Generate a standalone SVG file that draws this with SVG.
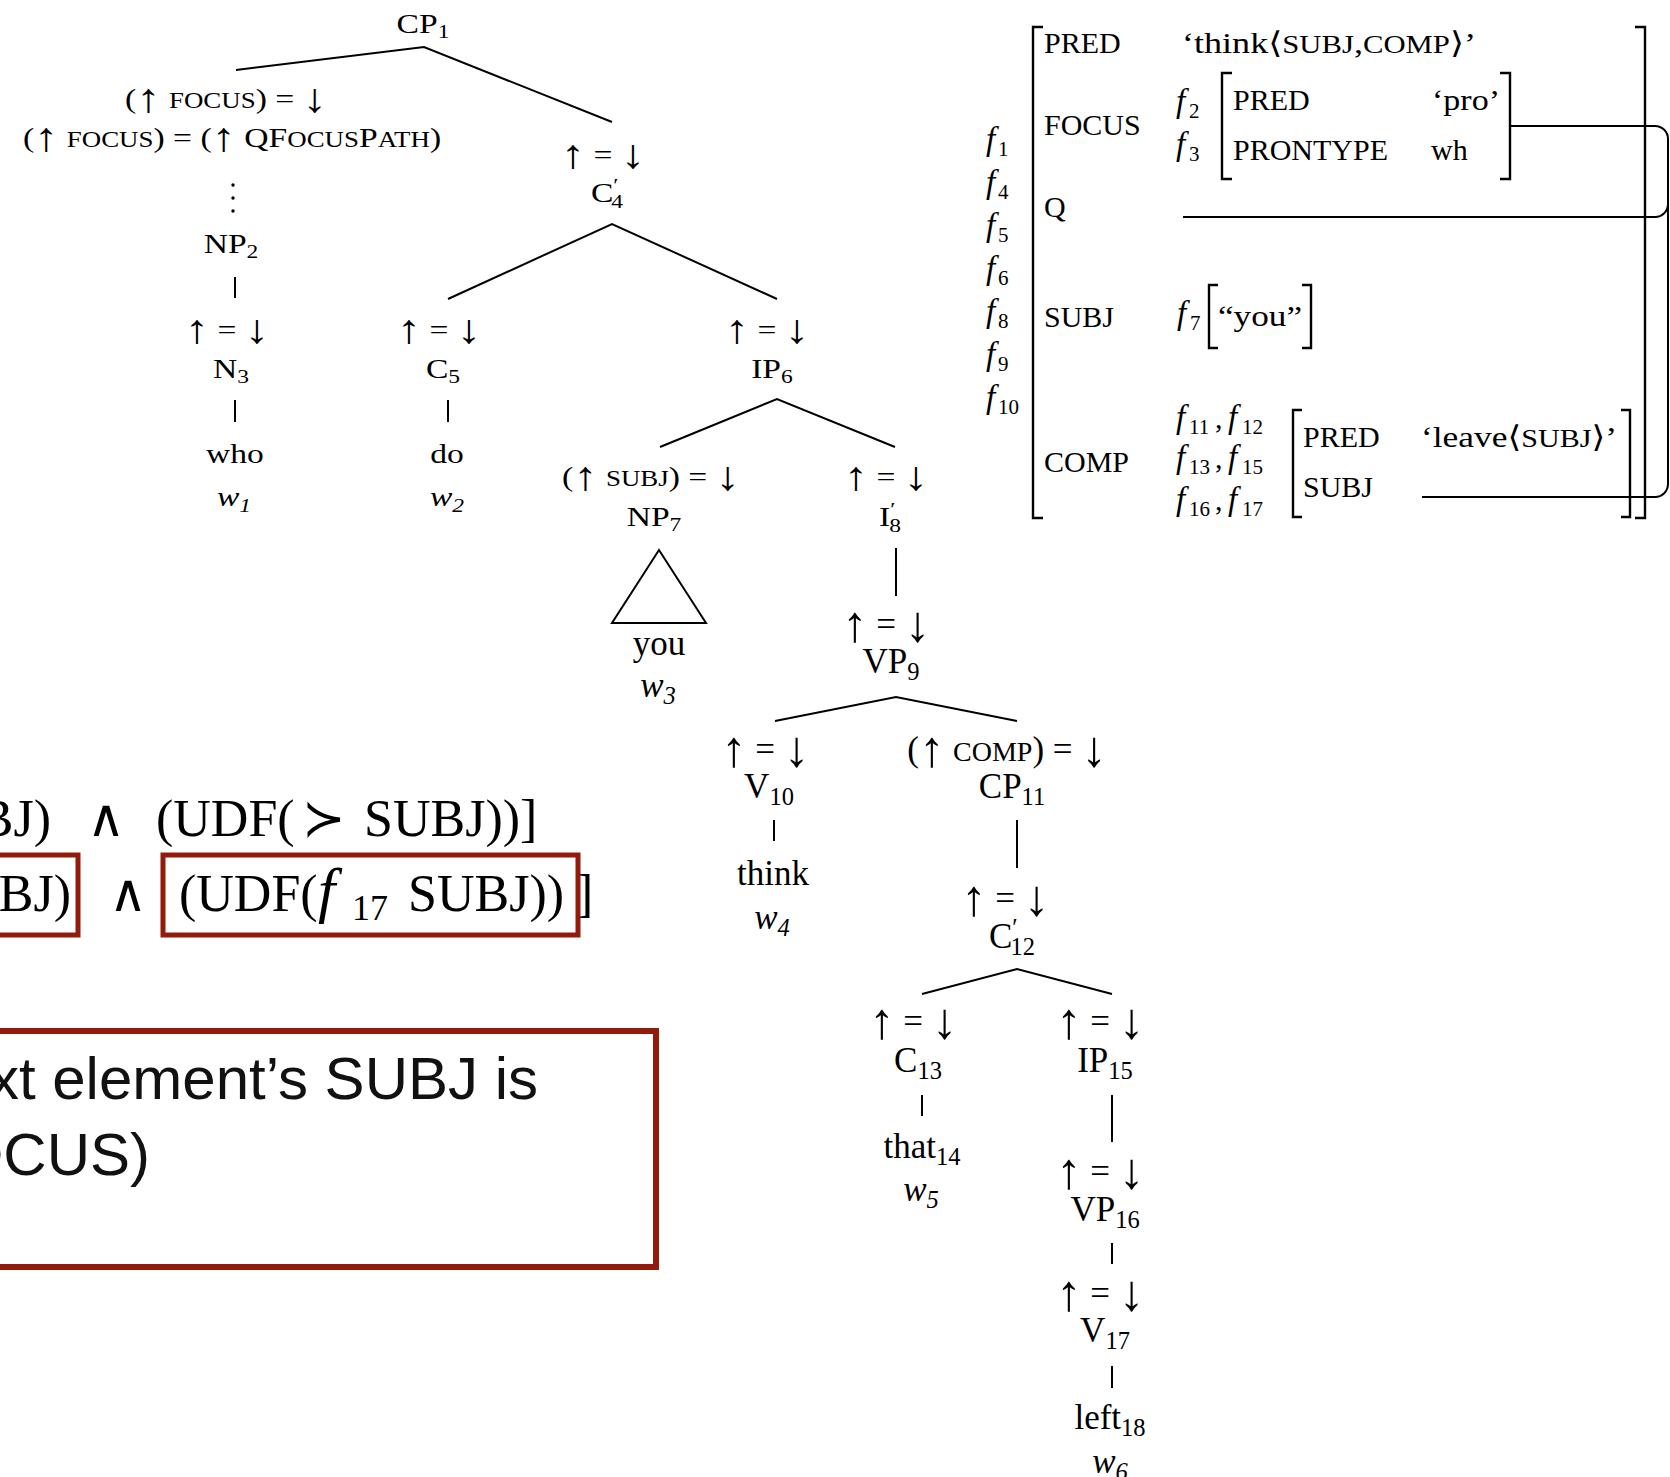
<svg xmlns="http://www.w3.org/2000/svg" width="1670" height="1477" viewBox="0 0 1670 1477">
  <style>
    text { fill: #000; }
    .u { font-family: "Liberation Serif", "DejaVu Serif", "DejaVu Sans", serif; font-size: 28px; text-anchor: middle;
         transform-box: fill-box; transform-origin: center; transform: scaleX(1.2); }
    .l { font-family: "Liberation Serif", "DejaVu Serif", "DejaVu Sans", serif; font-size: 35px; text-anchor: middle; }
    .fs { font-family: "Liberation Serif", "DejaVu Serif", "DejaVu Sans", serif; font-size: 30px; }
    .eq { font-family: "Liberation Serif", "DejaVu Serif", "DejaVu Sans", serif; font-size: 52px; }
    .note { font-family: "Liberation Sans", Arial, sans-serif; font-size: 60px; fill: #111; }
    .it { font-style: italic; }
    .sc { font-size: 0.8em; }
    .fs .sc { font-size: 0.85em; }
    .sub { font-size: 0.7em; }
    .ff { font-size: 1.1em; }
    .u .ar { font-size: 1.45em; baseline-shift: -4px; }
    .l .ar { font-size: 1.45em; baseline-shift: -5px; }
    .edge { stroke: #000; stroke-width: 2; fill: none; }
    .br { stroke: #000; stroke-width: 2.4; fill: none; }
    .link { stroke: #000; stroke-width: 2; fill: none; }
    .red { stroke: #921b0c; fill: none; }
  </style>
  <rect x="0" y="0" width="1670" height="1477" fill="#fff"/>

  <!-- tree edges, elision dots and structure-sharing lines -->
  <g id="connectors">
    <path class="edge" d="M236,70 L424,47 L612,122"/>
    <circle cx="233" cy="185" r="1.7"/>
    <circle cx="233" cy="198" r="1.7"/>
    <circle cx="233" cy="211" r="1.7"/>
    <path class="edge" d="M235,277 V298"/>
    <path class="edge" d="M235,400 V422"/>
    <path class="edge" d="M448,299 L612,224 L777,299"/>
    <path class="edge" d="M448,400 V422"/>
    <path class="edge" d="M660,447 L777,399 L895,447"/>
    <path class="edge" d="M659,550 L612,623 L706,623 Z"/>
    <path class="edge" d="M896,548 V596"/>
    <path class="edge" d="M775,721 L896,697 L1017,721"/>
    <path class="edge" d="M774,820 V841"/>
    <path class="edge" d="M1017,820 V868"/>
    <path class="edge" d="M922,994 L1017,969 L1112,994"/>
    <path class="edge" d="M922,1095 V1116"/>
    <path class="edge" d="M1112,1095 V1142"/>
    <path class="edge" d="M1112,1243 V1264"/>
    <path class="edge" d="M1112,1366 V1388"/>
    <!-- f-structure sharing lines -->
    <path class="link" d="M1509,126 H1655 A13,13 0 0 1 1668,139 V484 A13,13 0 0 1 1655,497 H1422"/>
    <path class="link" d="M1668,204 A13,13 0 0 1 1655,217 H1183"/>
  </g>

  <!-- c-structure nodes -->
  <g id="n-cp1"><text class="u" x="423" y="33">CP<tspan class="sub" dy="5">1</tspan></text></g>
  <g id="n-np2">
    <text class="u" x="226" y="108">(<tspan class="ar">↑</tspan> <tspan class="sc">FOCUS</tspan>) = <tspan class="ar">↓</tspan></text>
    <text class="u" x="232" y="147">(<tspan class="ar">↑</tspan> <tspan class="sc">FOCUS</tspan>) = (<tspan class="ar">↑</tspan> QF<tspan class="sc">OCUS</tspan>P<tspan class="sc">ATH</tspan>)</text>
    <text class="u" x="231" y="253">NP<tspan class="sub" dy="5">2</tspan></text>
  </g>
  <g id="n-n3">
    <text class="u" x="227" y="339"><tspan class="ar">↑</tspan> = <tspan class="ar">↓</tspan></text>
    <text class="u" x="231" y="378">N<tspan class="sub" dy="5">3</tspan></text>
  </g>
  <g id="n-who">
    <text class="u" x="235" y="463">who</text>
    <text class="u it" x="234" y="506">w<tspan class="sub" dy="6">1</tspan></text>
  </g>
  <g id="n-c4">
    <text class="u" x="603" y="164"><tspan class="ar">↑</tspan> = <tspan class="ar">↓</tspan></text>
    <text class="u" x="607" y="202">C<tspan class="sub" dy="-10">′</tspan><tspan class="sub" dx="-6" dy="16">4</tspan></text>
  </g>
  <g id="n-c5">
    <text class="u" x="439" y="339"><tspan class="ar">↑</tspan> = <tspan class="ar">↓</tspan></text>
    <text class="u" x="443" y="378">C<tspan class="sub" dy="5">5</tspan></text>
  </g>
  <g id="n-do">
    <text class="u" x="447" y="463">do</text>
    <text class="u it" x="447" y="506">w<tspan class="sub" dy="6">2</tspan></text>
  </g>
  <g id="n-ip6">
    <text class="u" x="767" y="339"><tspan class="ar">↑</tspan> = <tspan class="ar">↓</tspan></text>
    <text class="u" x="772" y="378">IP<tspan class="sub" dy="5">6</tspan></text>
  </g>
  <g id="n-np7">
    <text class="u" x="651" y="486">(<tspan class="ar">↑</tspan> <tspan class="sc">SUBJ</tspan>) = <tspan class="ar">↓</tspan></text>
    <text class="u" x="654" y="526">NP<tspan class="sub" dy="5">7</tspan></text>
  </g>
  <g id="n-you">
    <text class="l" x="659" y="655">you</text>
    <text class="l it" x="658" y="697">w<tspan class="sub" dy="7">3</tspan></text>
  </g>
  <g id="n-i8">
    <text class="u" x="886" y="486"><tspan class="ar">↑</tspan> = <tspan class="ar">↓</tspan></text>
    <text class="u" x="890" y="526">I<tspan class="sub" dy="-10">′</tspan><tspan class="sub" dx="-5" dy="16">8</tspan></text>
  </g>
  <g id="n-vp9">
    <text class="l" x="886" y="636"><tspan class="ar">↑</tspan> = <tspan class="ar">↓</tspan></text>
    <text class="l" x="891" y="673">VP<tspan class="sub" dy="7">9</tspan></text>
  </g>
  <g id="n-v10">
    <text class="l" x="765" y="761"><tspan class="ar">↑</tspan> = <tspan class="ar">↓</tspan></text>
    <text class="l" x="769" y="798">V<tspan class="sub" dy="7">10</tspan></text>
  </g>
  <g id="n-think">
    <text class="l" x="773" y="885">think</text>
    <text class="l it" x="772" y="929">w<tspan class="sub" dy="7">4</tspan></text>
  </g>
  <g id="n-cp11">
    <text class="l" x="1007" y="761">(<tspan class="ar">↑</tspan> <tspan class="sc">COMP</tspan>) = <tspan class="ar">↓</tspan></text>
    <text class="l" x="1012" y="798">CP<tspan class="sub" dy="7">11</tspan></text>
  </g>
  <g id="n-c12">
    <text class="l" x="1005" y="910"><tspan class="ar">↑</tspan> = <tspan class="ar">↓</tspan></text>
    <text class="l" x="1012" y="948">C<tspan class="sub" dy="-12">′</tspan><tspan class="sub" dx="-7" dy="19">12</tspan></text>
  </g>
  <g id="n-c13">
    <text class="l" x="913" y="1033"><tspan class="ar">↑</tspan> = <tspan class="ar">↓</tspan></text>
    <text class="l" x="918" y="1072">C<tspan class="sub" dy="7">13</tspan></text>
  </g>
  <g id="n-that">
    <text class="l" x="922" y="1158">that<tspan class="sub" dy="7">14</tspan></text>
    <text class="l it" x="921" y="1201">w<tspan class="sub" dy="7">5</tspan></text>
  </g>
  <g id="n-ip15">
    <text class="l" x="1100" y="1033"><tspan class="ar">↑</tspan> = <tspan class="ar">↓</tspan></text>
    <text class="l" x="1105" y="1072">IP<tspan class="sub" dy="7">15</tspan></text>
  </g>
  <g id="n-vp16">
    <text class="l" x="1100" y="1183"><tspan class="ar">↑</tspan> = <tspan class="ar">↓</tspan></text>
    <text class="l" x="1105" y="1221">VP<tspan class="sub" dy="7">16</tspan></text>
  </g>
  <g id="n-v17">
    <text class="l" x="1100" y="1305"><tspan class="ar">↑</tspan> = <tspan class="ar">↓</tspan></text>
    <text class="l" x="1105" y="1342">V<tspan class="sub" dy="7">17</tspan></text>
  </g>
  <g id="n-left">
    <text class="l" x="1110" y="1429">left<tspan class="sub" dy="7">18</tspan></text>
    <text class="l it" x="1110" y="1473">w<tspan class="sub" dy="7">6</tspan></text>
  </g>

  <!-- f-structure -->
  <g id="fs-outer">
    <path class="br" d="M1043,27 H1033 V518 H1043"/>
    <path class="br" d="M1635,27 H1645 V518 H1635"/>
    <text class="fs"><tspan class="it ff" x="986" y="150">f</tspan><tspan class="sub" x="998" y="156">1</tspan></text>
    <text class="fs"><tspan class="it ff" x="986" y="193">f</tspan><tspan class="sub" x="998" y="199">4</tspan></text>
    <text class="fs"><tspan class="it ff" x="986" y="236">f</tspan><tspan class="sub" x="998" y="242">5</tspan></text>
    <text class="fs"><tspan class="it ff" x="986" y="279">f</tspan><tspan class="sub" x="998" y="285">6</tspan></text>
    <text class="fs"><tspan class="it ff" x="986" y="322">f</tspan><tspan class="sub" x="998" y="328">8</tspan></text>
    <text class="fs"><tspan class="it ff" x="986" y="365">f</tspan><tspan class="sub" x="998" y="371">9</tspan></text>
    <text class="fs"><tspan class="it ff" x="986" y="408">f</tspan><tspan class="sub" x="998" y="414">10</tspan></text>
    <text class="fs" x="1044" y="53">PRED</text>
    <text class="fs" x="1182" y="53" textLength="294" lengthAdjust="spacingAndGlyphs">‘think⟨<tspan class="sc">SUBJ</tspan>,<tspan class="sc">COMP</tspan>⟩’</text>
    <text class="fs" x="1044" y="135">FOCUS</text>
    <text class="fs" x="1044" y="217">Q</text>
    <text class="fs" x="1044" y="327">SUBJ</text>
    <text class="fs" x="1044" y="472">COMP</text>
  </g>
  <g id="fs-focus">
    <text class="fs"><tspan class="it ff" x="1176" y="112">f</tspan><tspan class="sub" x="1189" y="118">2</tspan></text>
    <text class="fs"><tspan class="it ff" x="1176" y="155">f</tspan><tspan class="sub" x="1189" y="161">3</tspan></text>
    <path class="br" d="M1232,73 H1222 V179 H1232"/>
    <path class="br" d="M1500,73 H1510 V179 H1500"/>
    <text class="fs" x="1233" y="110">PRED</text>
    <text class="fs" x="1432" y="110" textLength="68" lengthAdjust="spacingAndGlyphs">‘pro’</text>
    <text class="fs" x="1233" y="160">PRONTYPE</text>
    <text class="fs" x="1431" y="160">wh</text>
  </g>
  <g id="fs-subj">
    <text class="fs"><tspan class="it ff" x="1177" y="324">f</tspan><tspan class="sub" x="1190" y="330">7</tspan></text>
    <path class="br" d="M1218,285 H1209 V348 H1218"/>
    <path class="br" d="M1302,285 H1311 V348 H1302"/>
    <text class="fs" x="1218" y="326" textLength="84" lengthAdjust="spacingAndGlyphs">“you”</text>
  </g>
  <g id="fs-comp">
    <text class="fs"><tspan class="it ff" x="1176" y="428">f</tspan><tspan class="sub" x="1189" y="434">11</tspan><tspan x="1215" y="428">,</tspan><tspan class="it ff" x="1228" y="428">f</tspan><tspan class="sub" x="1242" y="434">12</tspan></text>
    <text class="fs"><tspan class="it ff" x="1176" y="468">f</tspan><tspan class="sub" x="1189" y="474">13</tspan><tspan x="1215" y="468">,</tspan><tspan class="it ff" x="1228" y="468">f</tspan><tspan class="sub" x="1242" y="474">15</tspan></text>
    <text class="fs"><tspan class="it ff" x="1176" y="510">f</tspan><tspan class="sub" x="1189" y="516">16</tspan><tspan x="1215" y="510">,</tspan><tspan class="it ff" x="1228" y="510">f</tspan><tspan class="sub" x="1242" y="516">17</tspan></text>
    <path class="br" d="M1302,410 H1293 V517 H1302"/>
    <path class="br" d="M1621,410 H1630 V517 H1621"/>
    <text class="fs" x="1303" y="447">PRED</text>
    <text class="fs" x="1421" y="447" textLength="196" lengthAdjust="spacingAndGlyphs">‘leave⟨<tspan class="sc">SUBJ</tspan>⟩’</text>
    <text class="fs" x="1303" y="497">SUBJ</text>
  </g>

  <!-- constraint formulas with highlighted parts -->
  <g id="formula-1">
    <text class="eq" x="51" y="836" text-anchor="end">SUBJ)</text>
    <text class="eq" x="87" y="836">∧</text>
    <text class="eq" x="156" y="836">(UDF(<tspan x="302">≻</tspan><tspan x="364">SUBJ))]</tspan></text>
  </g>
  <g id="formula-2">
    <text class="eq" x="71" y="911" text-anchor="end">SUBJ)</text>
    <text class="eq" x="109" y="911">∧</text>
    <text class="eq" x="179" y="911">(UDF(<tspan class="it" x="318" font-size="62">f</tspan><tspan x="352" dy="9" font-size="36">17</tspan><tspan x="408" dy="-9">SUBJ))</tspan></text>
    <text class="eq" x="576" y="911">]</text>
    <rect class="red" x="-10" y="855" width="88" height="80" stroke-width="5"/>
    <rect class="red" x="163" y="855" width="415" height="80" stroke-width="5"/>
  </g>

  <!-- explanatory note box -->
  <g id="note">
    <rect class="red" x="-10" y="1031" width="666" height="236" stroke-width="6"/>
    <text class="note" x="538" y="1099" text-anchor="end">xt element’s SUBJ is</text>
    <text class="note" x="150" y="1175" text-anchor="end">OCUS)</text>
  </g>
</svg>
